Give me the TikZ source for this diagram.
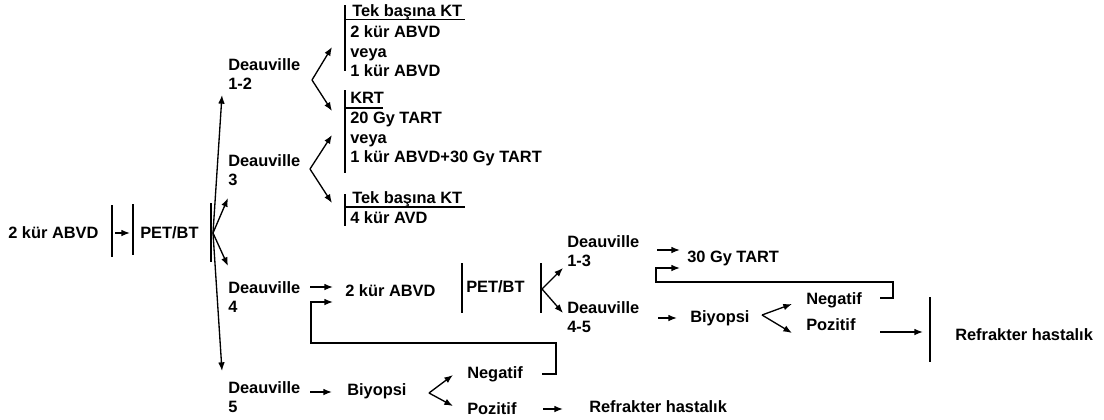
\documentclass[tikz,border=0pt]{standalone}
\usepackage{fontspec}
\setmainfont{Liberation Sans}
\usetikzlibrary{arrows.meta,calc}
\begin{document}
\begin{tikzpicture}[x=0.75pt,y=-0.75pt,
  txt/.style={font=\bfseries\fontsize{12.3}{14.6}\selectfont, inner sep=0pt, anchor=west, align=left},
  ln/.style={line width=1pt},
  arr/.style={ln, -{Latex[length=6.5pt,width=5pt]}},
  bar/.style={line width=1.1pt}]
\useasboundingbox[fill=white] (0,0) rectangle (1104,419);

% ---- start
\node[txt] (abvd0) at (8,233) {2 kür ABVD};
\node[txt] (pet0) at (140,233) {PET/BT};
\coordinate (b1t) at (112,205); \coordinate (b1b) at (112,257);
\coordinate (b2t) at (133,204); \coordinate (b2b) at (133,255);
\coordinate (b3t) at (211,203); \coordinate (b3b) at (211,262);
\draw[bar] (b1t) -- (b1b);
\draw[bar] (b2t) -- (b2b);
\draw[bar] (b3t) -- (b3b);
\coordinate (a0s) at (115,233); \coordinate (a0e) at (130,233);
\draw[arr] (a0s) -- (a0e);

% ---- Deauville branches
\node[txt] (d12) at (228,74) {Deauville\\1-2};
\node[txt] (d3) at (228,170) {Deauville\\3};
\node[txt] (d4) at (228,297) {Deauville\\4};
\node[txt] (d5) at (228,397) {Deauville\\5};
\coordinate (f0) at (213,233);
\coordinate (t12) at (222,95);
\coordinate (t3) at (228,198);
\coordinate (t4) at (228,266);
\coordinate (t5) at (222,371);
\draw[arr] (f0) -- (t12);
\draw[arr] (f0) -- (t3);
\draw[arr] (f0) -- (t4);
\draw[arr] (f0) -- (t5);

% ---- Deauville 1-2 fan
\coordinate (f12) at (312,80);
\coordinate (f12a) at (332,47); \coordinate (f12b) at (332,111);
\draw[arr] (f12) -- (f12a);
\draw[arr] (f12) -- (f12b);
% ---- Deauville 3 fan
\coordinate (f3) at (310,169);
\coordinate (f3a) at (332,135); \coordinate (f3b) at (332,203);
\draw[arr] (f3) -- (f3a);
\draw[arr] (f3) -- (f3b);

% ---- block 1
\node[txt] (h1) at (352,12) {Tek başına KT};
\node[txt] (k1) at (350,51.5) {2 kür ABVD\\veya\\1 kür ABVD};
\draw[bar] (345,5) coordinate (bk1t) -- (345,71) coordinate (bk1b);
\draw[ln] (345,19.5) coordinate (u1a) -- (465,19.5) coordinate (u1b);
% ---- block 2
\node[txt] (h2) at (350,98) {KRT};
\node[txt] (k2) at (350,139) {20 Gy TART\\veya\\1 kür ABVD+30 Gy TART};
\draw[bar] (345,90) coordinate (bk2t) -- (345,173) coordinate (bk2b);
\draw[ln] (345,108) coordinate (u2a) -- (383,108) coordinate (u2b);
% ---- block 3
\node[txt] (h3) at (352,199) {Tek başına KT};
\node[txt] (k3) at (350,218) {4 kür AVD};
\draw[bar] (345,194) coordinate (bk3t) -- (345,226) coordinate (bk3b);
\draw[ln] (345,207) coordinate (u3a) -- (465,207) coordinate (u3b);

% ---- Deauville 4 path
\node[txt] (abvd1) at (345,291) {2 kür ABVD};
\coordinate (a4s) at (310,287); \coordinate (a4e) at (333,287);
\draw[arr] (a4s) -- (a4e);
\node[txt] (pet1) at (466,287) {PET/BT};
\draw[bar] (462,263) coordinate (p1t) -- (462,313) coordinate (p1b);
\draw[bar] (541,263) coordinate (p2t) -- (541,313) coordinate (p2b);
\coordinate (fp) at (542,289);
\coordinate (fpa) at (563,268); \coordinate (fpb) at (563,313);
\draw[arr] (fp) -- (fpa);
\draw[arr] (fp) -- (fpb);
\node[txt] (d13) at (567,251) {Deauville\\1-3};
\node[txt] (d45) at (567,317) {Deauville\\4-5};
\node[txt] (tart) at (687,258) {30 Gy TART};
\coordinate (a13s) at (657,250); \coordinate (a13e) at (680,250);
\draw[arr] (a13s) -- (a13e);
\node[txt] (biy1) at (690,318) {Biyopsi};
\coordinate (a45s) at (658,318); \coordinate (a45e) at (677,318);
\draw[arr] (a45s) -- (a45e);
\coordinate (fb1) at (762,315);
\coordinate (fb1a) at (792,304); \coordinate (fb1b) at (792,333);
\draw[arr] (fb1) -- (fb1a);
\draw[arr] (fb1) -- (fb1b);
\node[txt] (neg1) at (806,300) {Negatif};
\node[txt] (poz1) at (806,325) {Pozitif};
\coordinate (l1s) at (880,298); \coordinate (l1e) at (680,268);
\draw[arr] (l1s) -- (893,298) -- (893,282) -- (656,282) -- (656,268) -- (l1e);
\coordinate (ap1s) at (880,332); \coordinate (ap1e) at (923,332);
\draw[arr] (ap1s) -- (ap1e);
\draw[bar] (930,297) coordinate (r1t) -- (930,362) coordinate (r1b);
\node[txt] (ref1) at (955,335) {Refrakter hastalık};

% ---- Deauville 5 path
\node[txt] (biy2) at (347,391) {Biyopsi};
\coordinate (a5s) at (310,392); \coordinate (a5e) at (332,392);
\draw[arr] (a5s) -- (a5e);
\coordinate (fb2) at (429,393);
\coordinate (fb2a) at (453,375); \coordinate (fb2b) at (453,406);
\draw[arr] (fb2) -- (fb2a);
\draw[arr] (fb2) -- (fb2b);
\node[txt] (neg2) at (467,374) {Negatif};
\node[txt] (poz2) at (467,409) {Pozitif};
\coordinate (l2s) at (542,374); \coordinate (l2e) at (333,302);
\draw[arr] (l2s) -- (556,374) -- (556,343) -- (311,343) -- (311,302) -- (l2e);
\coordinate (ap2s) at (543,409); \coordinate (ap2e) at (563,409);
\draw[arr] (ap2s) -- (ap2e);
\node[txt] (ref2) at (589,407) {Refrakter hastalık};
\end{tikzpicture}
\end{document}
